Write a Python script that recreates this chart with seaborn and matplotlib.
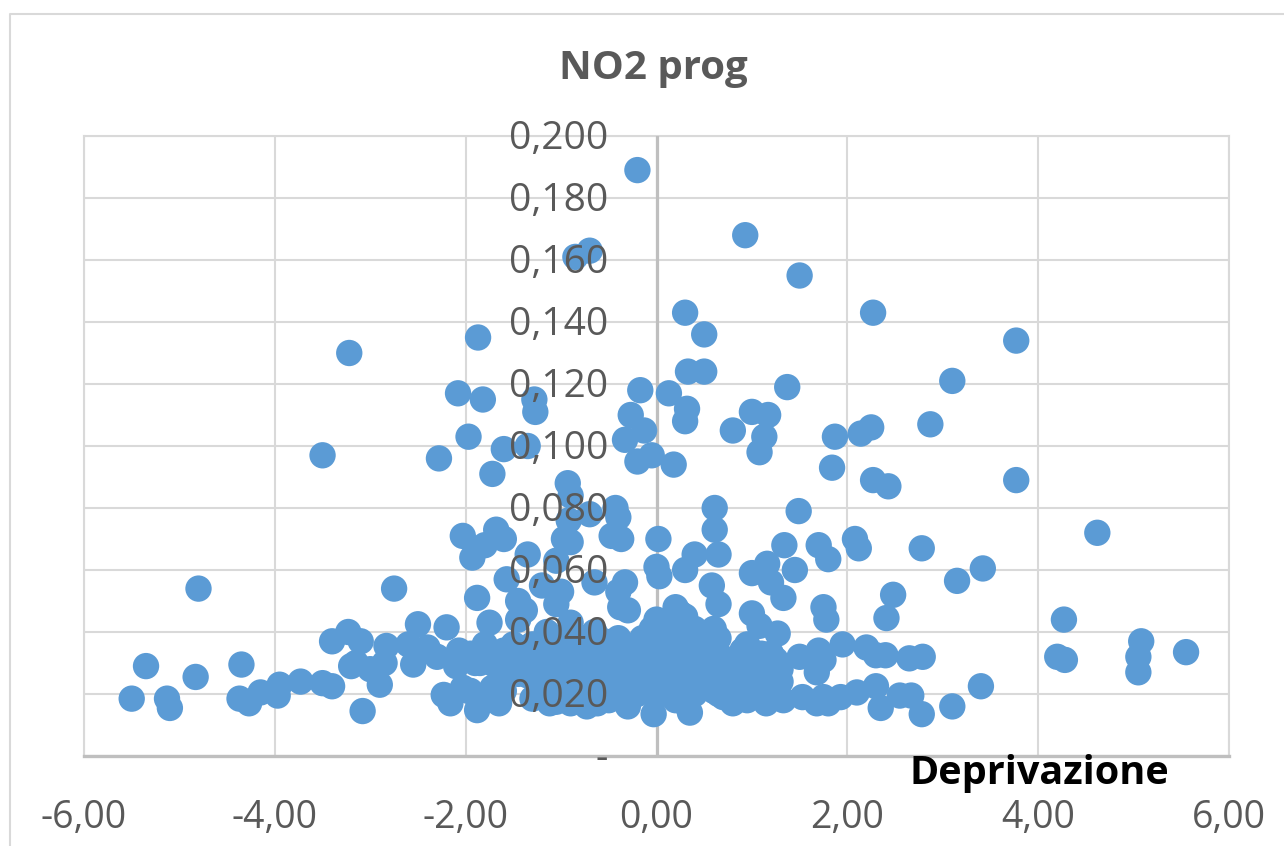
import matplotlib
matplotlib.use('Agg')
import matplotlib.pyplot as plt
from matplotlib.lines import Line2D
from matplotlib.transforms import ScaledTranslation
import pandas as pd
import seaborn as sns

# points above the dense band
x_upper = [-0.2, -0.7, -0.85, 0.93, 1.5, 2.27, 0.3, 0.5, 3.77, -1.87, -3.22, 0.33, 0.5, 3.1, 1.37,
           -2.08, -1.82, -1.28, -1.27, -0.17, 0.13, 0.32, 0.3, -0.27, 1.0, 1.17, 0.8, 1.13, 1.08, 1.87,
           2.14, 2.25, 2.87, -1.97, -0.33, -0.13, -0.05, -0.2, 0.18, -1.35, -1.6, -2.28, -3.5, -1.72, -0.93,
           1.84, 2.27, 2.43, 3.77, -0.9, -0.43, -0.4, -0.7, -0.92, 0.61, 1.49, 0.61, -2.03, -1.68, -1.8,
           -1.6, -0.97, -0.9, -0.47, -0.37, 0.02, 0.4, 0.65, 1.34, 1.7, 2.08, 2.12, 2.78, 4.62, -1.93,
           -1.35, -1.05, 0.0, 0.03, 0.3, 1.0, 1.16, 1.2, 1.45, 1.8, 3.15, 3.42, -4.8, -2.75, -1.57,
           -1.2, -1.0, -0.65, -0.33, -0.4, 0.58, 0.65, 1.33, 2.48, -1.88, -1.45, -1.38, -1.05, -0.38, -0.3,
           0.2, 0.25, 0.3, 1.0, 1.08, 1.75, 1.78, 2.41, 4.27]
y_upper = [0.189, 0.163, 0.161, 0.168, 0.155, 0.143, 0.143, 0.136, 0.134, 0.135, 0.130, 0.124, 0.124, 0.121, 0.119,
           0.117, 0.115, 0.115, 0.111, 0.118, 0.117, 0.112, 0.108, 0.110, 0.111, 0.110, 0.105, 0.103, 0.098, 0.103,
           0.104, 0.106, 0.107, 0.103, 0.102, 0.105, 0.097, 0.095, 0.094, 0.100, 0.099, 0.096, 0.097, 0.091, 0.088,
           0.093, 0.089, 0.087, 0.089, 0.084, 0.080, 0.077, 0.078, 0.076, 0.080, 0.079, 0.073, 0.071, 0.073, 0.068,
           0.070, 0.070, 0.069, 0.071, 0.070, 0.070, 0.065, 0.065, 0.068, 0.068, 0.070, 0.067, 0.067, 0.072, 0.064,
           0.065, 0.063, 0.061, 0.058, 0.060, 0.059, 0.062, 0.056, 0.060, 0.0635, 0.0565, 0.0605, 0.054, 0.054, 0.057,
           0.055, 0.053, 0.056, 0.056, 0.053, 0.055, 0.049, 0.051, 0.052, 0.051, 0.050, 0.047, 0.049, 0.048, 0.047,
           0.048, 0.046, 0.045, 0.046, 0.042, 0.048, 0.044, 0.0445, 0.044]

# left tail
x_left = [-5.5, -5.35, -5.13, -5.1, -4.83, -4.35, -4.37, -4.27, -4.15, -3.97, -3.95, -3.73, -3.5, -3.4, -3.4,
          -3.23, -3.1, -3.2, -3.15, -3.08, -3.0, -2.9, -2.85, -2.83, -2.6, -2.55, -2.5, -2.5, -2.4, -2.3,
          -2.2, -2.23, -2.16, -2.1, -2.07, -2.03, -1.97, -1.9, -1.88, -1.8, -1.75, -1.65, -1.6]
y_left = [0.0185, 0.029, 0.0185, 0.0155, 0.0255, 0.0295, 0.0185, 0.017, 0.0205, 0.0195, 0.023, 0.024, 0.0235, 0.0225, 0.037,
          0.040, 0.037, 0.029, 0.030, 0.0145, 0.028, 0.023, 0.030, 0.0355, 0.036, 0.0295, 0.033, 0.0425, 0.035, 0.032,
          0.0415, 0.0197, 0.017, 0.029, 0.034, 0.022, 0.021, 0.03, 0.0148, 0.036, 0.043, 0.017, 0.021]

# dense band around zero
x_band = [-1.7, -1.6, -1.55, -1.5, -1.45, -1.45, -1.4, -1.35, -1.3, -1.25, -1.2, -1.2, -1.15, -1.1, -1.05,
          -1.07, -1.05, -1.0, -1.0, -0.95, -0.9, -0.9, -0.85, -0.8, -0.75, -0.73, -0.7, -0.65, -0.62, -0.6,
          -0.55, -0.5, -0.5, -0.45, -0.4, -0.4, -0.35, -0.3, -0.3, -0.25, -0.2, -0.2, -0.15, -0.1, -0.1,
          -0.05, -0.03, 0.0, 0.0, 0.05, 0.05, 0.1, 0.1, 0.15, 0.15, 0.2, 0.2, 0.25, 0.25, 0.3,
          0.3, 0.35, 0.35, 0.35, 0.4, 0.4, 0.45, 0.45, 0.5, 0.5, 0.55, 0.55, 0.6, 0.6, 0.65,
          0.65, 0.7, 0.7, 0.75, 0.8, 0.8, 0.85, 0.85, 0.9, 0.95, 0.95, 1.0, 1.0, 1.05, 1.1,
          1.15, 1.2, 1.2, 1.25, 1.27, 1.3, 1.33, 1.5, 1.53, 1.68, 1.7, 1.68, 1.75, 1.75, 1.8,
          1.93, 1.95, 2.1, 2.2, 2.3, 2.3, 2.35, 2.4, 2.55, 2.65, 2.67, 2.78, 2.79, 3.1, 3.4,
          4.2, 4.28, 5.08, 5.05, 5.05, 5.55]
y_band = [0.0295, 0.034, 0.031, 0.036, 0.029, 0.044, 0.033, 0.030, 0.036, 0.031, 0.034, 0.029, 0.040, 0.033, 0.0175,
          0.020, 0.029, 0.037, 0.031, 0.028, 0.017, 0.043, 0.033, 0.029, 0.038, 0.016, 0.031, 0.040, 0.017, 0.027,
          0.034, 0.018, 0.030, 0.025, 0.038, 0.022, 0.032, 0.016, 0.027, 0.035, 0.020, 0.029, 0.038, 0.024, 0.032,
          0.041, 0.0135, 0.044, 0.027, 0.020, 0.035, 0.028, 0.039, 0.023, 0.032, 0.043, 0.018, 0.036, 0.027, 0.040,
          0.017, 0.014, 0.031, 0.024, 0.041, 0.020, 0.034, 0.027, 0.038, 0.022, 0.030, 0.036, 0.041, 0.025, 0.033,
          0.020, 0.028, 0.023, 0.019, 0.031, 0.017, 0.027, 0.021, 0.030, 0.018, 0.024, 0.032, 0.020, 0.028, 0.030,
          0.017, 0.033, 0.025, 0.020, 0.0395, 0.028, 0.018, 0.032, 0.019, 0.017, 0.034, 0.027, 0.031, 0.019, 0.017,
          0.019, 0.036, 0.0205, 0.035, 0.0325, 0.0225, 0.0155, 0.0325, 0.0195, 0.0315, 0.0195, 0.0135, 0.032, 0.016, 0.0225,
          0.032, 0.031, 0.037, 0.032, 0.027, 0.0335]

# more points packed into the solid part of the band
x_fill = [-1.75, -1.65, -1.5, -1.35, -1.2, -1.1, -0.95, -0.85, -0.75, -0.65, -0.55, -1.0, -0.9, -0.8, -0.7,
          -0.6, -0.5, -0.95, -0.8, -0.65, -0.45, -0.35, -0.2, -0.1, 0.05, 0.15, 0.25, 0.4, 0.55, 0.7,
          0.75, 0.85, 0.95, 1.05, 1.15, 1.25, 0.8, 0.9, 1.0, 1.1, 0.7, 0.9, 1.1, -0.25, -0.1, 0.1,
          0.45, 0.6, 0.25, -1.15, -1.3, 1.3, 1.22, 0.65, 0.95,
          -1.95, -1.85, -1.95, -1.85, -1.8, -1.72, -1.6, -1.45, -1.35, -1.25, -1.1, -1.3, -1.2, -1.12, -1.0,
          -0.85, -1.55, -1.4, -0.7, -0.55]
y_fill = [0.033, 0.030, 0.032, 0.035, 0.031, 0.030, 0.032, 0.028, 0.034, 0.027, 0.029, 0.024, 0.023, 0.021, 0.025,
          0.022, 0.025, 0.020, 0.018, 0.020, 0.019, 0.023, 0.024, 0.021, 0.024, 0.026, 0.022, 0.025, 0.026, 0.030,
          0.027, 0.024, 0.029, 0.024, 0.026, 0.031, 0.022, 0.019, 0.026, 0.021, 0.019, 0.034, 0.033, 0.032, 0.029,
          0.036, 0.030, 0.021, 0.034, 0.024, 0.033, 0.024, 0.021, 0.038, 0.036,
          0.033, 0.030, 0.021, 0.019, 0.019, 0.022, 0.028, 0.0265, 0.026, 0.026, 0.026, 0.0185, 0.022, 0.017, 0.0195,
          0.0185, 0.0265, 0.030, 0.036, 0.037]

x_ticks = [-6, -4, -2, 0, 2, 4, 6]
x_labels = ['-6,00', '-4,00', '-2,00', '0,00', '2,00', '4,00', '6,00']
y_ticks = [0, 0.02, 0.04, 0.06, 0.08, 0.10, 0.12, 0.14, 0.16, 0.18, 0.20]
y_labels = ['-', '0,020', '0,040', '0,060', '0,080', '0,100', '0,120', '0,140', '0,160', '0,180', '0,200']

df = pd.DataFrame({'deprivazione': x_upper + x_left + x_band + x_fill,
                   'no2': y_upper + y_left + y_band + y_fill})

sns.set_style('white')
plt.rcParams['font.family'] = ['Open Sans', 'DejaVu Sans']

W, H = 1284, 846
fig = plt.figure(figsize=(W / 100, H / 100), dpi=100)
rect = [84 / W, 1 - 756 / H, (1229 - 84) / W, (756 - 136) / H]
ax = fig.add_axes(rect)

sns.scatterplot(data=df, x='deprivazione', y='no2', s=360, color='#5b9bd5',
                edgecolor='none', linewidth=0, ax=ax, clip_on=False, zorder=3)

ax.set_xlim(-6, 6)
ax.set_ylim(0, 0.2)
ax.set_xticks(x_ticks)
ax.set_yticks(y_ticks)
ax.set_xticklabels(x_labels, fontsize=27, color='#595959')
ax.set_xlabel('')
ax.set_ylabel('')
ax.tick_params(axis='both', length=0)
ax.tick_params(axis='y', labelleft=False)
ax.tick_params(axis='x', pad=31)
ax.grid(True, color='#d9d9d9', linewidth=1.5)
ax.set_axisbelow(True)
for side in ['left', 'right', 'top']:
    ax.spines[side].set_color('#d9d9d9')
    ax.spines[side].set_linewidth(1.5)
    ax.spines[side].set_zorder(0.5)
ax.spines['bottom'].set_color('#bfbfbf')
ax.spines['bottom'].set_linewidth(2.4)
ax.axvline(0, color='#bfbfbf', linewidth=2.3, zorder=1)

# y labels sit on top of the markers, so they go on a clear axes above
top = fig.add_axes(rect, frameon=False)
top.set_xlim(-6, 6)
top.set_ylim(0, 0.2)
top.xaxis.set_visible(False)
top.spines['left'].set_position(('data', 0))
top.tick_params(axis='y', length=0, pad=35)
top.set_yticks(y_ticks)
top.set_yticklabels(y_labels, fontsize=28, color='#595959')
top.patch.set_alpha(0)
nudge = ScaledTranslation(0, 2 / 100, fig.dpi_scale_trans)
for lab in top.get_yticklabels():
    lab.set_transform(lab.get_transform() + nudge)

fig.text(653 / W, 1 - 69 / H, 'NO2 prog', fontsize=29, fontweight='bold',
         color='#595959', ha='center', va='center')
fig.text(1039 / W, 1 - 773 / H, 'Deprivazione', fontsize=28.5, fontweight='bold',
         color='black', ha='center', va='center')

# chart area border, cut by the image edge
fig.add_artist(Line2D([10.5 / W, 10.5 / W, 1], [0, 1 - 14 / H, 1 - 14 / H],
                      color='#d9d9d9', linewidth=1.5))

fig.savefig('out.png', dpi=100, facecolor='white')
